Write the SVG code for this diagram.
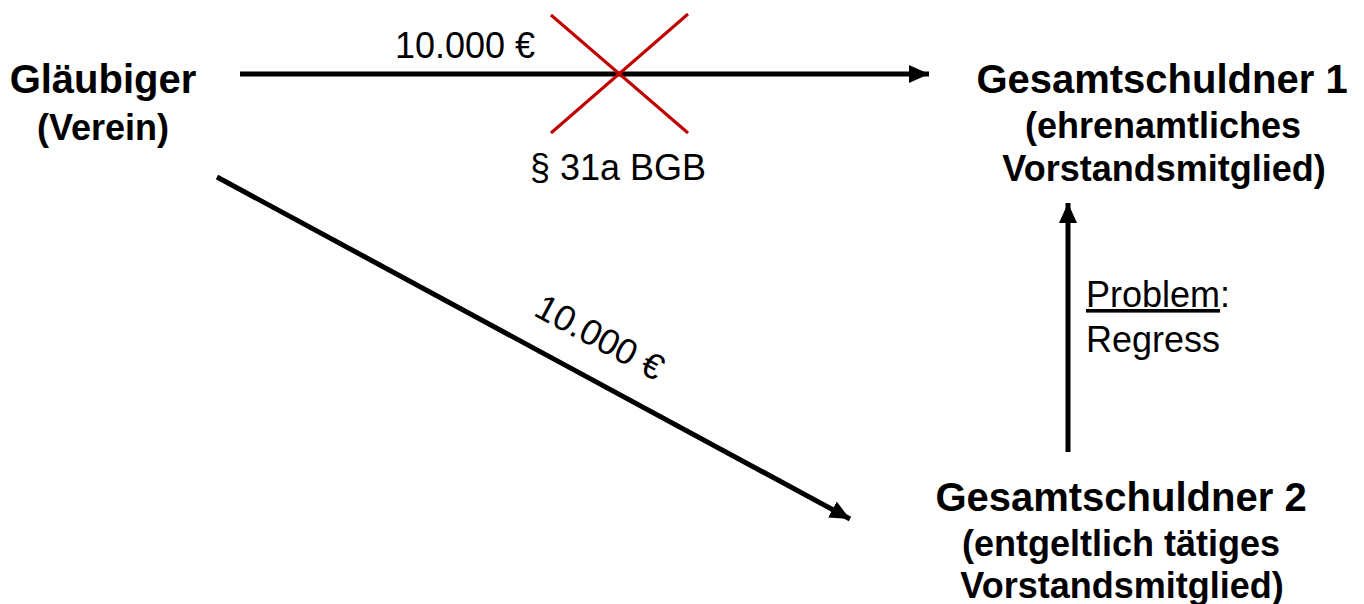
<svg xmlns="http://www.w3.org/2000/svg" width="1364" height="604" viewBox="0 0 1364 604">
<style>
.b{font-family:"Liberation Sans",Arial,sans-serif;font-weight:bold;fill:#000;text-anchor:middle}
.r{font-family:"Liberation Sans",Arial,sans-serif;fill:#000}
.ln{stroke:#000;stroke-width:5;fill:none}
</style>
<defs>
<marker id="ah" markerUnits="userSpaceOnUse" markerWidth="22" markerHeight="20" refX="20" refY="10" orient="auto">
<path d="M0,1 L20,10 L0,19 Z" fill="#000"/>
</marker>
</defs>
<rect width="1364" height="604" fill="#fff"/>
<g id="glaeubiger">
<text class="b" x="103" y="93" font-size="40">Gläubiger</text>
<text class="b" x="103" y="140" font-size="36">(Verein)</text>
</g>
<g id="gs1">
<text class="b" x="1162" y="93" font-size="40">Gesamtschuldner 1</text>
<text class="b" x="1163" y="138" font-size="36">(ehrenamtliches</text>
<text class="b" x="1164" y="181" font-size="36">Vorstandsmitglied)</text>
</g>
<g id="gs2">
<text class="b" x="1121" y="511" font-size="40">Gesamtschuldner 2</text>
<text class="b" x="1121" y="556" font-size="36">(entgeltlich tätiges</text>
<text class="b" x="1122" y="598" font-size="36">Vorstandsmitglied)</text>
</g>
<g id="connectors">
<line class="ln" x1="240" y1="74" x2="929" y2="74" marker-end="url(#ah)"/>
<line class="ln" x1="217" y1="177" x2="850" y2="519" marker-end="url(#ah)"/>
<line class="ln" x1="1068" y1="452" x2="1068" y2="203" marker-end="url(#ah)"/>
<line x1="551" y1="15" x2="688" y2="133" stroke="#c00000" stroke-width="3"/>
<line x1="688" y1="14" x2="551" y2="133" stroke="#c00000" stroke-width="3"/>
<text class="r" x="395" y="58" font-size="36">10.000 €</text>
<text class="r" x="530" y="180" font-size="36">§ 31a BGB</text>
<text class="r" x="0" y="0" font-size="36" text-anchor="middle" transform="translate(594,348) rotate(28.4)">10.000 €</text>
<text class="r" x="1086" y="307" font-size="36"><tspan text-decoration="underline">Problem</tspan>:</text>
<text class="r" x="1086" y="352" font-size="36">Regress</text>
</g>
</svg>
